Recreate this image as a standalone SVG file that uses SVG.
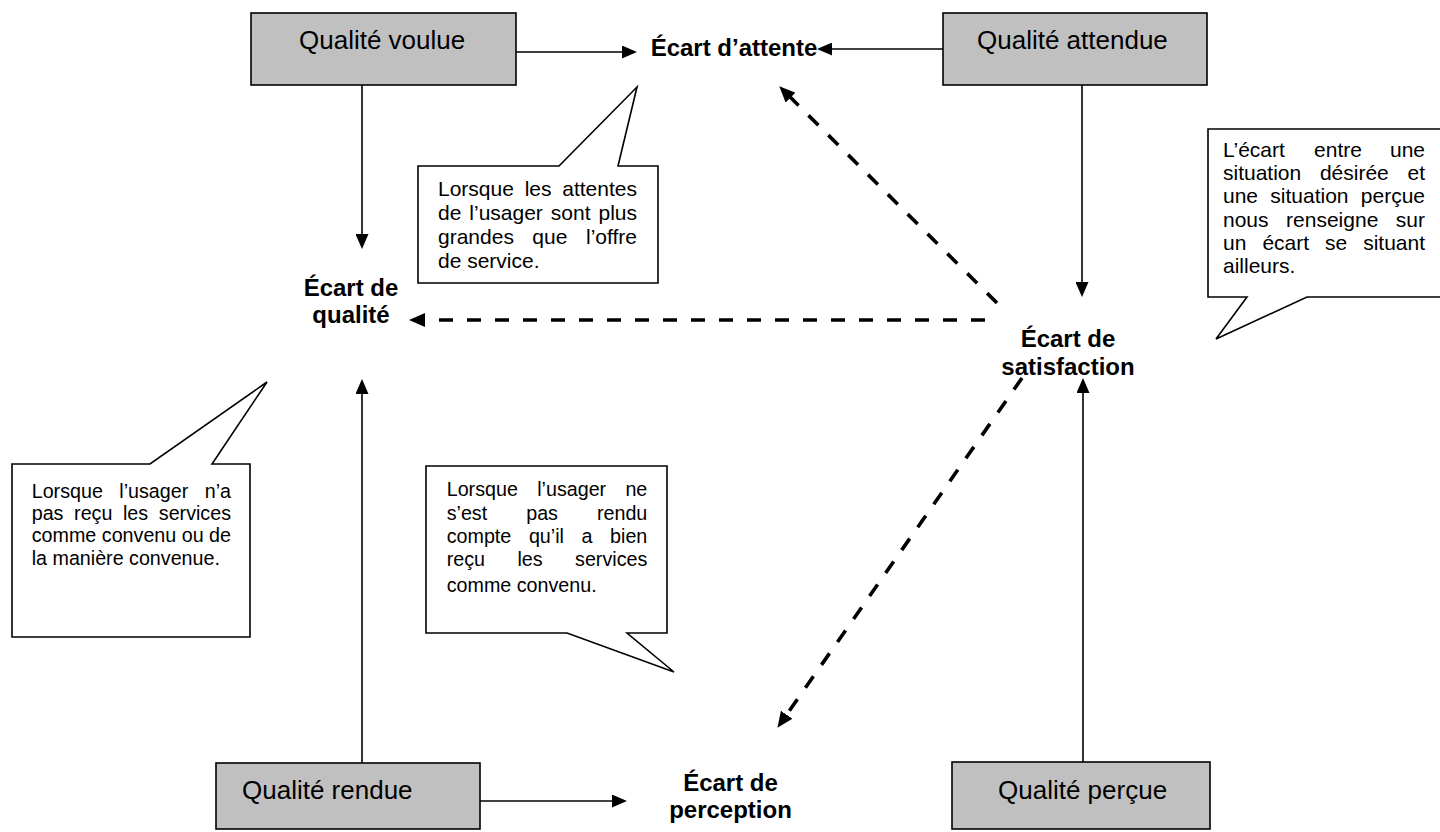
<svg xmlns="http://www.w3.org/2000/svg" width="1440" height="832" viewBox="0 0 1440 832">
<style>
.box{fill:#c0c0c0;stroke:#000;stroke-width:1.6}
.call{fill:#fff;stroke:#000;stroke-width:1.6;stroke-linejoin:miter}
.q{font-family:"Liberation Sans",Arial,sans-serif;font-size:26px;fill:#000}
.b{font-family:"Liberation Sans",Arial,sans-serif;font-size:24px;font-weight:bold;fill:#000;text-anchor:middle}
.t{font-family:"Liberation Sans",Arial,sans-serif;font-size:19.7px;fill:#000}
.t21{font-size:21px}
.e{text-anchor:end}
.sl{fill:none;stroke:#000;stroke-width:1.6}
.dl{fill:none;stroke:#000;stroke-width:3.6;stroke-dasharray:14 14}
</style>
<defs>
<marker id="ah" markerUnits="userSpaceOnUse" markerWidth="16" markerHeight="13" refX="13" refY="6.5" orient="auto">
<polygon points="0,0 15,6.5 0,13" fill="#000"/>
</marker>
<marker id="ahd" markerUnits="userSpaceOnUse" markerWidth="17" markerHeight="14" refX="10" refY="7" orient="auto">
<polygon points="0,0 16,7 0,14" fill="#000"/>
</marker>
</defs>
<rect width="1440" height="832" fill="#fff"/>

<g id="connectors">
<line class="sl" x1="516" y1="52" x2="635" y2="52" marker-end="url(#ah)"/>
<line class="sl" x1="943" y1="49" x2="819" y2="49" marker-end="url(#ah)"/>
<line class="sl" x1="362" y1="85" x2="362" y2="247" marker-end="url(#ah)"/>
<line class="sl" x1="1082" y1="85" x2="1082" y2="295" marker-end="url(#ah)"/>
<line class="sl" x1="362" y1="763" x2="362" y2="381" marker-end="url(#ah)"/>
<line class="sl" x1="1083" y1="762" x2="1083" y2="380" marker-end="url(#ah)"/>
<line class="sl" x1="480" y1="801" x2="625" y2="801" marker-end="url(#ah)"/>
<line class="dl" x1="985" y1="320" x2="415" y2="320" marker-end="url(#ahd)"/>
<line class="dl" x1="997" y1="303" x2="783.5" y2="90.5" marker-end="url(#ahd)"/>
<line class="dl" x1="1022" y1="378" x2="780.9" y2="722.9" marker-end="url(#ahd)"/>
</g>

<g id="qualite-voulue">
<rect class="box" x="251" y="13" width="265" height="72"/>
<text class="q" x="299" y="49">Qualité voulue</text>
</g>
<g id="qualite-attendue">
<rect class="box" x="943" y="13" width="264" height="72"/>
<text class="q" x="977" y="49">Qualité attendue</text>
</g>
<g id="qualite-rendue">
<rect class="box" x="216" y="763" width="264" height="66"/>
<text class="q" x="242" y="799">Qualité rendue</text>
</g>
<g id="qualite-percue">
<rect class="box" x="952" y="762" width="258" height="67"/>
<text class="q" x="998" y="799">Qualité perçue</text>
</g>

<g id="ecart-attente">
<text class="b" x="734" y="56">Écart d’attente</text>
</g>
<g id="ecart-qualite">
<text class="b" x="351" y="296">Écart de</text>
<text class="b" x="351" y="323">qualité</text>
</g>
<g id="ecart-satisfaction">
<text class="b" x="1068" y="347">Écart de</text>
<text class="b" x="1068" y="375">satisfaction</text>
</g>
<g id="ecart-perception">
<text class="b" x="730.5" y="791">Écart de</text>
<text class="b" x="730.5" y="818">perception</text>
</g>

<g id="note-attente">
<path class="call" d="M418,166 L559,166 L637,87 L618,166 L658,166 L658,283 L418,283 Z"/>
<text class="t t21" x="438" y="196">Lorsque</text>
<text class="t t21" x="524.7" y="196">les</text>
<text class="t t21 e" x="637" y="196">attentes</text>
<text class="t t21" x="438" y="220">de</text>
<text class="t t21" x="469.3" y="220">l’usager</text>
<text class="t t21" x="550.8" y="220">sont</text>
<text class="t t21 e" x="637" y="220">plus</text>
<text class="t t21" x="438" y="244">grandes</text>
<text class="t t21" x="532.3" y="244">que</text>
<text class="t t21 e" x="637" y="244">l’offre</text>
<text class="t t21" x="438" y="268">de service.</text>
</g>

<g id="note-ailleurs">
<path class="call" d="M1208,129 L1446,129 L1446,297 L1307,297 L1216,339 L1247,297 L1208,297 Z"/>
<text class="t t21" x="1223" y="157">L’écart</text>
<text class="t t21" x="1314.1" y="157">entre</text>
<text class="t t21 e" x="1425" y="157">une</text>
<text class="t t21" x="1223" y="180">situation</text>
<text class="t t21" x="1319.9" y="180">désirée</text>
<text class="t t21 e" x="1425" y="180">et</text>
<text class="t t21" x="1223" y="203">une</text>
<text class="t t21" x="1270.3" y="203">situation</text>
<text class="t t21 e" x="1425" y="203">perçue</text>
<text class="t t21" x="1223" y="227">nous</text>
<text class="t t21" x="1286.1" y="227">renseigne</text>
<text class="t t21 e" x="1425" y="227">sur</text>
<text class="t t21" x="1223" y="250">un</text>
<text class="t t21" x="1262.4" y="250">écart</text>
<text class="t t21" x="1325.1" y="250">se</text>
<text class="t t21 e" x="1425" y="250">situant</text>
<text class="t t21" x="1223" y="273">ailleurs.</text>
</g>

<g id="note-qualite">
<path class="call" d="M12,464 L150,464 L267,382 L212,464 L250,464 L250,637 L12,637 Z"/>
<text class="t" x="31.7" y="498">Lorsque</text>
<text class="t" x="119.3" y="498">l’usager</text>
<text class="t e" x="231" y="498">n’a</text>
<text class="t" x="31.7" y="520">pas</text>
<text class="t" x="74.1" y="520">reçu</text>
<text class="t" x="123" y="520">les</text>
<text class="t e" x="231" y="520">services</text>
<text class="t" x="31.7" y="542">comme</text>
<text class="t" x="101.8" y="542">convenu</text>
<text class="t" x="181.8" y="542">ou</text>
<text class="t e" x="231" y="542">de</text>
<text class="t" x="31.7" y="565">la manière convenue.</text>
</g>

<g id="note-perception">
<path class="call" d="M426,466 L667,466 L667,633 L627,633 L674,672 L567,633 L426,633 Z"/>
<text class="t" x="446.7" y="496">Lorsque</text>
<text class="t" x="537.2" y="496">l’usager</text>
<text class="t e" x="647.3" y="496">ne</text>
<text class="t" x="446.7" y="520">s’est</text>
<text class="t" x="526.2" y="520">pas</text>
<text class="t e" x="647.3" y="520">rendu</text>
<text class="t" x="446.7" y="543">compte</text>
<text class="t" x="528.9" y="543">qu’il</text>
<text class="t" x="581.5" y="543">a</text>
<text class="t e" x="647.3" y="543">bien</text>
<text class="t" x="446.7" y="566">reçu</text>
<text class="t" x="517.5" y="566">les</text>
<text class="t e" x="647.3" y="566">services</text>
<text class="t" x="446.7" y="592">comme convenu.</text>
</g>
</svg>
